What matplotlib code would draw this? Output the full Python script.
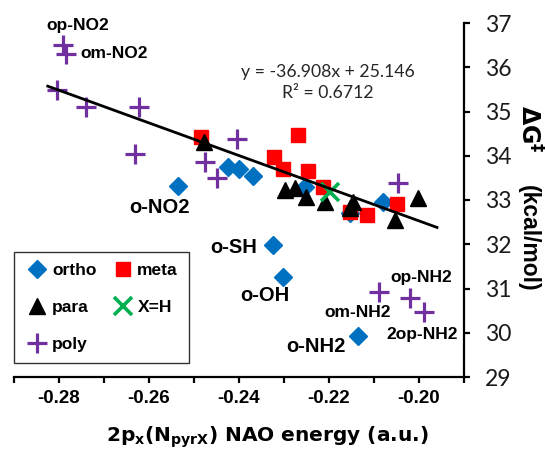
import matplotlib
matplotlib.use("Agg")
import matplotlib.pyplot as plt
import numpy as np
from matplotlib.ticker import MultipleLocator, FormatStrFormatter

# values
ortho_x = [-0.2536, -0.2424, -0.2399, -0.2370, -0.2253, -0.2079, -0.2153, -0.2324, -0.2303, -0.2135]
ortho_y = [33.32, 33.74, 33.69, 33.54, 33.30, 32.96, 32.71, 31.98, 31.27, 29.93]

meta_x = [-0.2484, -0.2270, -0.2322, -0.2302, -0.2247, -0.2213, -0.2153, -0.2116, -0.2050]
meta_y = [34.42, 34.47, 33.97, 33.70, 33.66, 33.30, 32.74, 32.66, 32.91]

para_x = [-0.2478, -0.2298, -0.2276, -0.2251, -0.2209, -0.2147, -0.2153, -0.2053, -0.2002]
para_y = [34.31, 33.23, 33.27, 33.07, 32.96, 32.96, 32.81, 32.55, 33.04]

h_x = [-0.2197]
h_y = [33.19]

poly_x = [-0.2790, -0.2784, -0.2805, -0.2739, -0.2623, -0.2631, -0.2476,
          -0.2405, -0.2449, -0.2046, -0.2089, -0.2020, -0.1990]
poly_y = [36.50, 36.31, 35.49, 35.11, 35.10, 34.04, 33.87,
          34.37, 33.49, 33.38, 30.93, 30.79, 30.48]

# trendline as printed on the chart
slope = -36.908
intercept = 25.146
r2 = 0.6712

# point labels: text, x, y, horizontal alignment, font size
point_labels = [
    ("op-NO2", -0.2758, 36.95, "center", 12.5),
    ("om-NO2", -0.2753, 36.30, "left", 12.5),
    ("o-NO2", -0.2576, 32.84, "center", 14.5),
    ("o-SH", -0.2360, 31.92, "right", 14.5),
    ("o-OH", -0.2342, 30.85, "center", 14.5),
    ("om-NH2", -0.2136, 30.45, "center", 12.5),
    ("o-NH2", -0.2229, 29.68, "center", 14.5),
    ("op-NH2", -0.1996, 31.24, "center", 12.5),
    ("2op-NH2", -0.1993, 29.95, "center", 12.5),
]

BLUE = "#0070C0"
RED = "#FF0000"
GREEN = "#00B050"
PURPLE = "#7030A0"
LABEL_FONT = "Liberation Sans"

fig = plt.figure(figsize=(5.45, 4.49), dpi=100)
ax = fig.add_axes([14 / 545, 72 / 449, 450 / 545, 354 / 449])

ax.plot(ortho_x, ortho_y, "D", color=BLUE, markersize=9, linestyle="none", label="ortho", zorder=3)
ax.plot(meta_x, meta_y, "s", color=RED, markersize=10, linestyle="none", label="meta", zorder=3)
ax.plot(para_x, para_y, "^", color="black", markersize=12, linestyle="none", label="para", zorder=4)
ax.plot(h_x, h_y, "x", color=GREEN, markersize=13, markeredgewidth=2.6, linestyle="none", label="X=H", zorder=4)
ax.plot(poly_x, poly_y, "+", color=PURPLE, markersize=14, markeredgewidth=2.3, linestyle="none", label="poly", zorder=4)

all_x = np.array(ortho_x + meta_x + para_x + h_x + poly_x)
fit_x = np.array([all_x.min() - 0.002, all_x.max() + 0.003])
ax.plot(fit_x, slope * fit_x + intercept, color="black", linewidth=2.0, zorder=5)

ax.text(-0.2202, 35.89, f"y = {slope}x + {intercept}", ha="center", va="center",
        fontsize=12.7, family="Lato", color="#262626")
ax.text(-0.2202, 35.42, f"R² = {r2}", ha="center", va="center",
        fontsize=12.7, family="Lato", color="#262626")

for txt, lx, ly, ha, fs in point_labels:
    ax.text(lx, ly, txt, ha=ha, va="center", fontsize=fs, fontweight="bold", family=LABEL_FONT)

ax.set_xlim(-0.29, -0.19)
ax.set_ylim(29, 37)

for side in ["left", "top"]:
    ax.spines[side].set_visible(False)
for side in ["bottom", "right"]:
    ax.spines[side].set_linewidth(1.6)

ax.yaxis.tick_right()
ax.xaxis.set_major_locator(MultipleLocator(0.02))
ax.xaxis.set_minor_locator(MultipleLocator(0.01))
ax.xaxis.set_major_formatter(FormatStrFormatter("%.2f"))
ax.yaxis.set_major_locator(MultipleLocator(1))
ax.tick_params(axis="x", which="both", direction="out", length=4.5, width=1.6, pad=5)
ax.tick_params(axis="y", direction="out", length=4, width=1.6, pad=11)
for lab in ax.get_xticklabels():
    lab.set_fontsize(13.5)
    lab.set_fontweight("bold")
    lab.set_family(LABEL_FONT)
for lab in ax.get_yticklabels():
    lab.set_fontsize(16.5)
    lab.set_family("Lato")
    lab.set_color("#1a1a1a")

ax.set_xlabel(r"$\mathbf{2p_x(N_{pyrX})}$ NAO energy (a.u.)", fontsize=14.5, fontweight="bold")
ax.xaxis.set_label_coords(0.564, -0.135)

ax.text(1.144, 0.70, r"$\mathbf{\Delta G^{\ddagger}}$", transform=ax.transAxes,
        rotation=270, ha="center", va="center", fontsize=17)
ax.text(1.144, 0.393, "(kcal/mol)", transform=ax.transAxes, rotation=270,
        ha="center", va="center", fontsize=16.5, fontweight="bold", family=LABEL_FONT)

handles, labels = ax.get_legend_handles_labels()
order = [0, 2, 4, 1, 3]
leg = ax.legend([handles[i] for i in order], [labels[i] for i in order],
                ncol=2, loc="upper left", bbox_to_anchor=(0.0, 0.353),
                borderaxespad=0.0,
                frameon=True, fancybox=False, edgecolor="black",
                prop={"family": LABEL_FONT, "weight": "bold", "size": 12.5},
                handletextpad=0.15, columnspacing=0.8, labelspacing=1.25,
                handlelength=1.4, borderpad=0.65)
leg.get_frame().set_linewidth(1.0)

fig.savefig("out.png", dpi=100)
